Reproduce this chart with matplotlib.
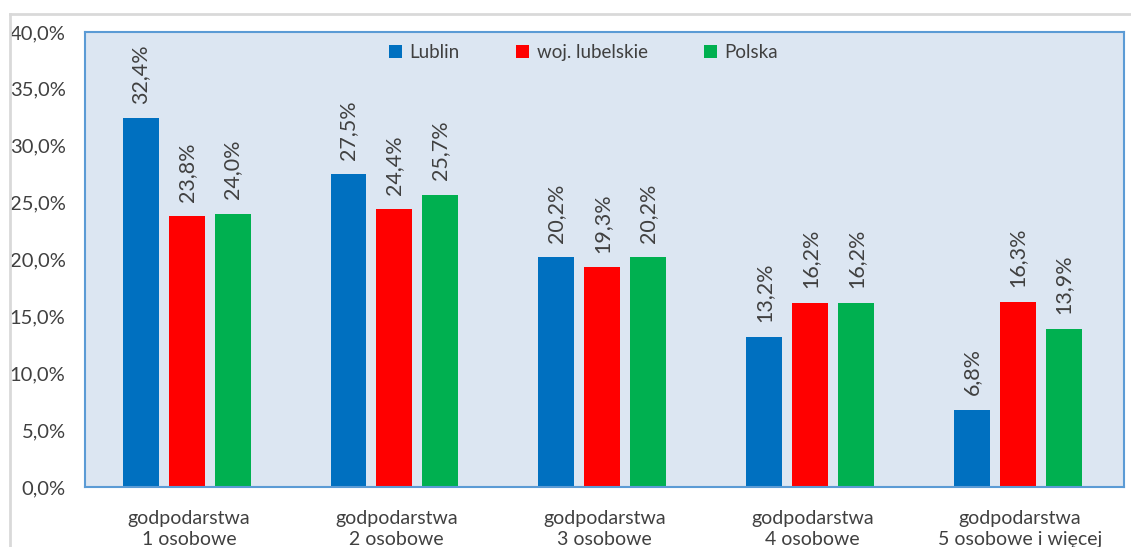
import matplotlib
matplotlib.use("Agg")
import matplotlib.pyplot as plt
from matplotlib.lines import Line2D
from matplotlib.patches import Patch
import numpy as np

categories = ["godpodarstwa\n1 osobowe", "godpodarstwa\n2 osobowe", "godpodarstwa\n3 osobowe",
              "godpodarstwa\n4 osobowe", "godpodarstwa\n5 osobowe i więcej"]
series_names = ["Lublin", "woj. lubelskie", "Polska"]
lublin = [32.4, 27.5, 20.2, 13.2, 6.8]
lubelskie = [23.8, 24.4, 19.3, 16.2, 16.3]
polska = [24.0, 25.7, 20.2, 16.2, 13.9]
colors = ["#0070C0", "#FF0000", "#00B050"]
yticks = [0, 5, 10, 15, 20, 25, 30, 35, 40]

plt.rcParams['font.family'] = ['Lato', 'DejaVu Sans']
W, H = 1131, 547
fig = plt.figure(figsize=(W / 100, H / 100), dpi=100)
fig.patch.set_facecolor("white")

# outer chart border lines (partially visible)
fig.add_artist(Line2D([10 / W, 1.0], [1 - 14 / H, 1 - 14 / H], color="#D9D9D9", lw=2))
fig.add_artist(Line2D([10 / W, 10 / W], [0, 1 - 14 / H], color="#D9D9D9", lw=2))

L, R, T, B = 85, 1124, 32, 487
ax = fig.add_axes([L / W, 1 - B / H, (R - L) / W, (B - T) / H])
ax.set_facecolor("#DCE6F2")
for s in ax.spines.values():
    s.set_color("#5B9BD5")
    s.set_linewidth(1.5)

x = np.arange(len(categories))
bw = 0.173
offs = [-0.232, -0.011, 0.21]
data = [lublin, lubelskie, polska]
for vals, off, col, name in zip(data, offs, colors, series_names):
    ax.bar(x + off, vals, width=bw, color=col, label=name, zorder=2)
    for xi, v in zip(x, vals):
        ax.annotate(f"{v:.1f}%".replace(".", ","), (xi + off, v), xytext=(0, 10.5),
                    textcoords="offset points", rotation=90, ha="center", va="bottom",
                    fontsize=15.5, color="#404040")

ax.set_xlim(-0.5, 4.5)
ax.set_ylim(0, 40)
ax.set_yticks(yticks)
ax.set_yticklabels([f"{t:.1f}%".replace(".", ",") for t in yticks], fontsize=14.5, color="#404040")
ax.tick_params(axis="y", length=0, pad=14)
ax.set_xticks([])
for xi, c in zip(x, categories):
    ax.text(xi, -0.05, c, transform=ax.get_xaxis_transform(), ha="center", va="top",
            fontsize=14, color="#404040", linespacing=1.3)

handles = [Patch(facecolor=c) for c in colors]
ax.legend(handles, series_names, loc="center", bbox_to_anchor=(0.48, 0.954), ncol=3,
          frameon=False, fontsize=13.5, handlelength=0.7, handleheight=0.7, handletextpad=0.4,
          columnspacing=3.0, labelcolor="#404040")

fig.savefig("out.png", dpi=100)
